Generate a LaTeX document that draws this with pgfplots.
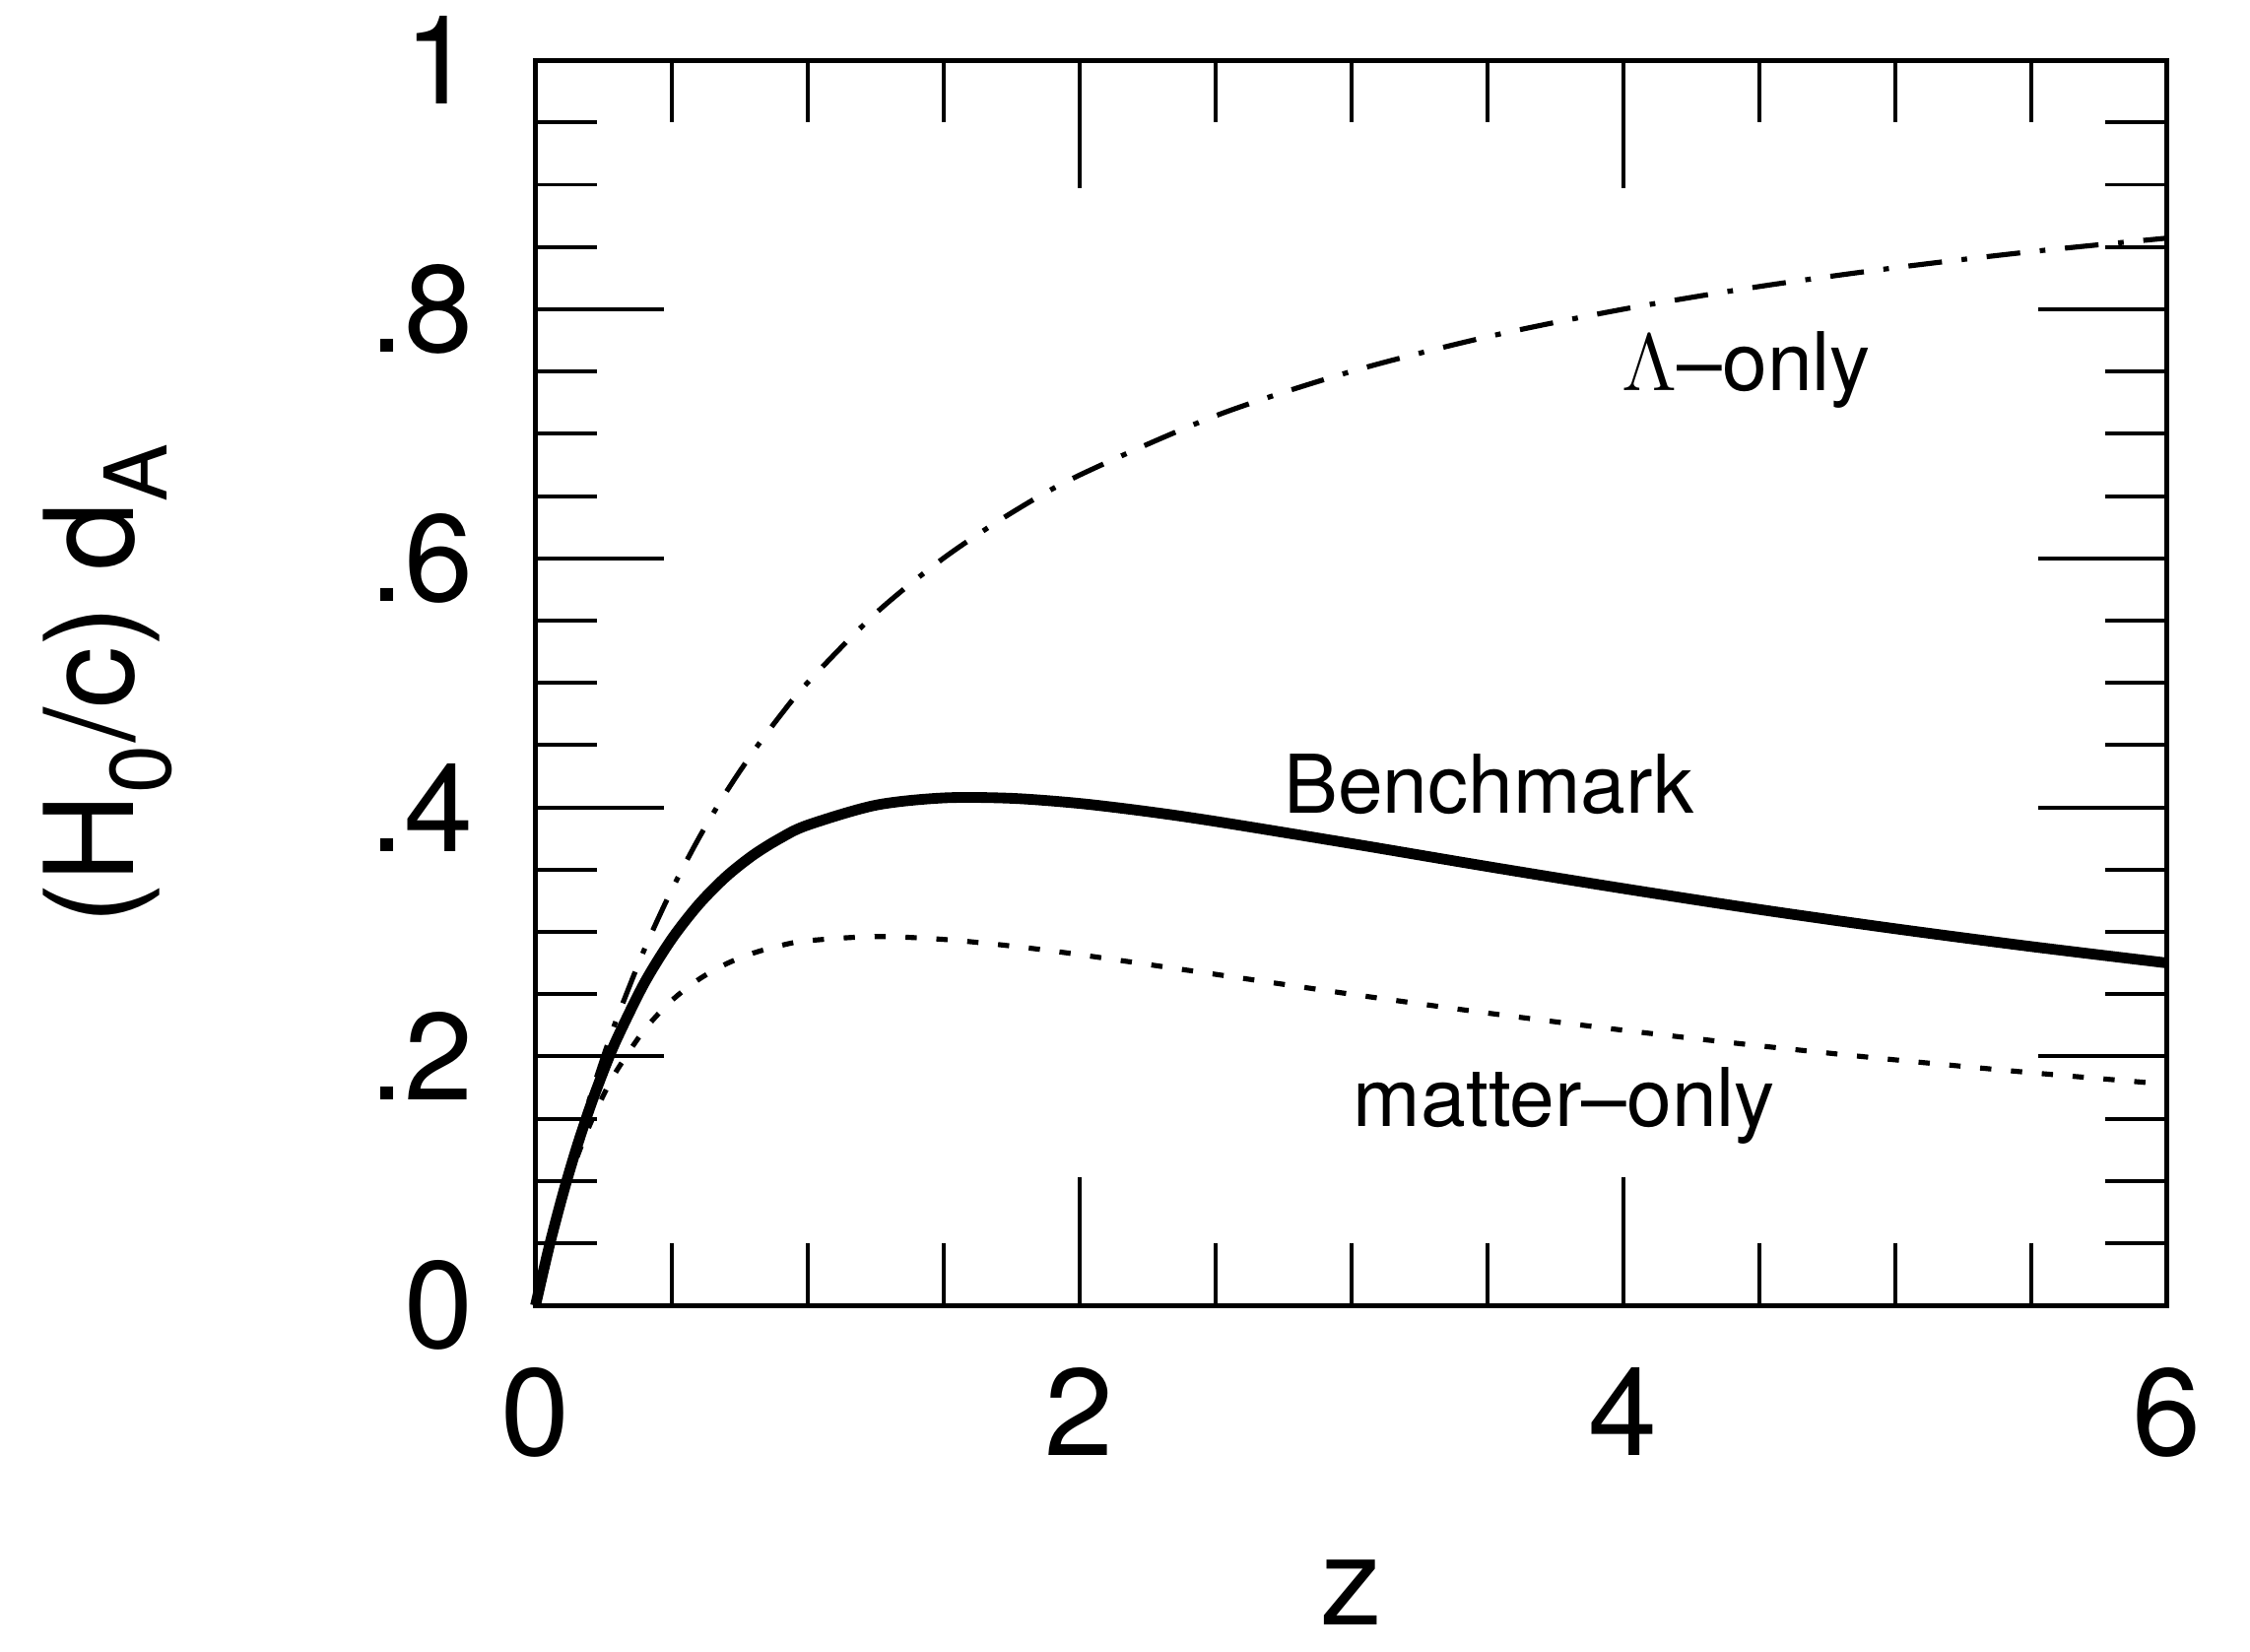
\documentclass[border=0pt]{standalone}
\usepackage{pgfplots}
\pgfplotsset{compat=1.18}
\usepackage{fontspec}
\setmainfont{TeX Gyre Heros}
\usetikzlibrary{calc}

\begin{document}
\begin{tikzpicture}
\begin{axis}[
    scale only axis, width=290pt, height=221.4pt,
    xmin=0, xmax=6, ymin=0, ymax=1,
    xtick={0,2,4,6}, xticklabels={0,2,4,6},
    ytick={0,0.2,0.4,0.6,0.8,1}, yticklabels={0,.2,.4,.6,.8,1},
    minor x tick num=3, minor y tick num=3,
    tick align=inside,
    major tick length=22.8pt, minor tick length=11pt,
    every tick/.style={black, line width=0.7pt},
    axis line style={line width=0.9pt},
    ticklabel style={font=\fontsize{22}{26}\selectfont},
    xticklabel style={yshift=-7.5pt},
    yticklabel style={xshift=-7.5pt},
    xlabel={z}, ylabel={(H\raisebox{-0.25ex}{\textsubscript{0}}/c) d\raisebox{-0.15ex}{\textsubscript{A}}},
    label style={font=\fontsize{22}{26}\selectfont},
    xlabel style={at={(axis description cs:0.5,0)}, anchor=north, inner sep=0pt, yshift=-45pt},
    ylabel style={at={(axis description cs:-0.262,0.5)}, anchor=center},
    clip=false
]
% benchmark
\addplot[black, line width=1.9pt, smooth] coordinates {
(0,0)(0.05,0.0471)(0.1,0.0888)(0.15,0.1259)(0.2,0.1589)(0.25,0.1883)(0.3,0.2145)
(0.4,0.2588)(0.5,0.2940)(0.6,0.3220)(0.7,0.3442)(0.8,0.3616)(0.9,0.3752)(1.0,0.3857)
(1.25,0.4017)(1.5,0.4076)(1.75,0.4073)(2.0,0.4032)(2.25,0.3967)(2.5,0.3888)(3.0,0.3710)
(3.5,0.3526)(4.0,0.3349)(4.5,0.3181)(5.0,0.3026)(5.5,0.2883)(6.0,0.2751)};
% Lambda-only
\addplot[black, line width=0.9pt, smooth, dash pattern=on 6pt off 3.5pt on 1pt off 3.5pt] coordinates {
(0,0)(0.05,0.0476)(0.1,0.0909)(0.15,0.1304)(0.2,0.1667)(0.25,0.2)(0.3,0.2308)
(0.4,0.2857)(0.5,0.3333)(0.6,0.375)(0.7,0.4118)(0.8,0.4444)(0.9,0.4737)(1.0,0.5)
(1.25,0.5556)(1.5,0.6)(1.75,0.6364)(2.0,0.6667)(2.5,0.7143)(3.0,0.75)
(3.5,0.7778)(4.0,0.8)(4.5,0.8182)(5.0,0.8333)(5.5,0.8462)(6.0,0.8571)};
% matter-only
\addplot[black, line width=0.9pt, smooth, dash pattern=on 2pt off 3.5pt] coordinates {
(0,0)(0.05,0.0459)(0.1,0.0846)(0.15,0.1174)(0.2,0.1452)(0.25,0.1689)(0.3,0.1891)
(0.4,0.2212)(0.5,0.2447)(0.6,0.2618)(0.7,0.2742)(0.8,0.2829)(0.9,0.2890)(1.0,0.2929)
(1.25,0.2963)(1.5,0.2940)(1.75,0.2887)(2.0,0.2818)(2.5,0.2660)(3.0,0.25)
(3.5,0.2349)(4.0,0.2211)(4.5,0.2086)(5.0,0.1973)(5.5,0.1870)(6.0,0.1777)};

\node[anchor=base, font=\fontsize{14.4}{17}\selectfont] at (axis cs:3.507,0.395) {Benchmark};
\node[anchor=base, font=\fontsize{14.4}{17}\selectfont] at (axis cs:3.784,0.144) {matter–only};
\node[anchor=base, font=\fontsize{14.4}{17}\selectfont] at (axis cs:4.454,0.735) {$\Lambda$–only};
\end{axis}
\pgfresetboundingbox
\path[use as bounding box] ($(current axis.south west)+(-95.2pt,-61.5pt)$) rectangle ($(current axis.north east)+(14.8pt,10.7pt)$);
\end{tikzpicture}
\end{document}
